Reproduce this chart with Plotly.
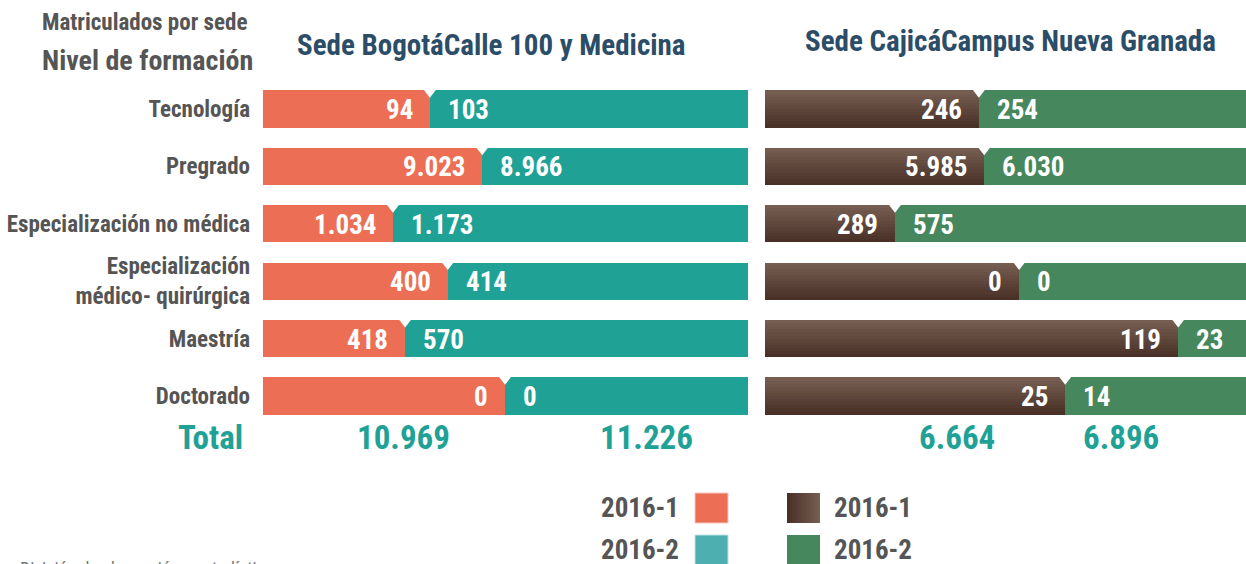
import plotly.graph_objects as go

# ---------------- data ----------------
categories = ["Tecnología", "Pregrado", "Especialización no médica",
              "Especialización<br>médico- quirúrgica", "Maestría", "Doctorado"]
bogota_2016_1 = [94, 9023, 1034, 400, 418, 0]
bogota_2016_2 = [103, 8966, 1173, 414, 570, 0]
cajica_2016_1 = [246, 5985, 289, 0, 119, 25]
cajica_2016_2 = [254, 6030, 575, 0, 23, 14]
# share of each bar drawn for the 2016-1 segment (%)
bogota_split = [34.4, 45.2, 26.8, 38.1, 29.3, 49.9]
cajica_split = [44.1, 45.2, 26.8, 52.4, 85.2, 61.9]
totals_bogota = ["10.969", "11.226"]
totals_cajica = ["6.664", "6.896"]
legend_labels = ["2016-1", "2016-2"]

# ---------------- style ----------------
W, H = 1246, 564
FONT = "Liberation Sans Narrow, Arial Narrow, Roboto Condensed, DejaVu Sans Condensed, sans-serif"
GRAY = "#555555"
ORANGE = "#EC6F55"
TEAL = "#1FA295"
TEAL_LEG = "#4DAFB0"
GREEN = "#47875D"
BROWN_TOP = (0x76, 0x5D, 0x51)
BROWN_BOT = (0x4A, 0x31, 0x28)
TITLE = "#2B4D68"
BARW = 0.645
pitch = 57.4
c0 = 109

def px(x):
    return x / W

def py(y):
    return 1 - y / H

def fmt(v):
    return f"{v:,}".replace(",", ".")

def mix(a, b, t):
    return "rgb(%d,%d,%d)" % tuple(round(a[i] + (b[i] - a[i]) * t) for i in range(3))

idx = list(range(len(categories)))
fig = go.Figure()

# Left panel bars
rest_b = [100 - s for s in bogota_split]
fig.add_trace(go.Bar(x=bogota_split, y=idx, base=0, orientation="h", width=BARW,
                     marker=dict(color=ORANGE, line=dict(width=0)), hoverinfo="skip",
                     xaxis="x", yaxis="y", showlegend=False))
fig.add_trace(go.Bar(x=rest_b, y=idx, base=bogota_split, orientation="h", width=BARW,
                     marker=dict(color=TEAL, line=dict(width=0)), hoverinfo="skip",
                     xaxis="x", yaxis="y", showlegend=False))

# Right panel bars (brown drawn as overlapping layers for a vertical gradient)
N = 12
sw = BARW / N
for k in range(N):
    fig.add_trace(go.Bar(x=cajica_split, y=idx, base=0, orientation="h",
                         width=BARW - k * sw, offset=-BARW / 2 + k * sw,
                         marker=dict(color=mix(BROWN_TOP, BROWN_BOT, k / (N - 1)), line=dict(width=0)),
                         hoverinfo="skip", xaxis="x2", yaxis="y", showlegend=False))
rest_c = [100 - s for s in cajica_split]
fig.add_trace(go.Bar(x=rest_c, y=idx, base=cajica_split, orientation="h", width=BARW,
                     marker=dict(color=GREEN, line=dict(width=0)), hoverinfo="skip",
                     xaxis="x2", yaxis="y", showlegend=False))

# Notches
notch_y = [i - 0.29 for i in idx]
for xs, xa in [(bogota_split, "x"), (cajica_split, "x2")]:
    fig.add_trace(go.Scatter(x=xs, y=notch_y, mode="markers", xaxis=xa, yaxis="y",
                             marker=dict(symbol="triangle-down", size=11, color="white",
                                         line=dict(width=0)),
                             hoverinfo="skip", showlegend=False))

annotations = []
vfont = dict(family=FONT, size=27, color="white", weight="bold")
for split, v1, v2, xr in [(bogota_split, bogota_2016_1, bogota_2016_2, "x"),
                          (cajica_split, cajica_2016_1, cajica_2016_2, "x2")]:
    for i in idx:
        annotations.append(dict(x=split[i], y=i, xref=xr, yref="y", text=fmt(v1[i]),
                                showarrow=False, xanchor="right", yanchor="middle",
                                xshift=-15, yshift=-1, font=vfont))
        annotations.append(dict(x=split[i], y=i, xref=xr, yref="y", text=fmt(v2[i]),
                                showarrow=False, xanchor="left", yanchor="middle",
                                xshift=16, yshift=-1, font=vfont))

catfont = dict(family=FONT, size=23, color=GRAY, weight="bold")

# Header texts
annotations += [
    dict(x=px(249), y=py(22), xref="paper", yref="paper", text="Matriculados por sede",
         showarrow=False, xanchor="right", yanchor="middle",
         font=dict(family=FONT, size=23, color=GRAY, weight="bold")),
    dict(x=px(255), y=py(60), xref="paper", yref="paper", text="Nivel de formación",
         showarrow=False, xanchor="right", yanchor="middle",
         font=dict(family=FONT, size=28, color=GRAY, weight="bold")),
    dict(x=px(491), y=py(45), xref="paper", yref="paper", text="Sede BogotáCalle 100 y Medicina",
         showarrow=False, xanchor="center", yanchor="middle",
         font=dict(family=FONT, size=29, color=TITLE, weight="bold")),
    dict(x=px(1010), y=py(41), xref="paper", yref="paper", text="Sede CajicáCampus Nueva Granada",
         showarrow=False, xanchor="center", yanchor="middle",
         font=dict(family=FONT, size=29, color=TITLE, weight="bold")),
]

# Totals
tfont = dict(family=FONT, size=33, color=TEAL, weight="bold")
annotations.append(dict(x=px(245), y=py(437), xref="paper", yref="paper", text="Total",
                        showarrow=False, xanchor="right", yanchor="middle", font=tfont))
for xc, t in zip([404, 646, 957, 1121], totals_bogota + totals_cajica):
    annotations.append(dict(x=px(xc), y=py(437), xref="paper", yref="paper", text=t,
                            showarrow=False, xanchor="center", yanchor="middle", font=tfont))

# Legend
lfont = dict(family=FONT, size=27, color=GRAY, weight="bold")
shapes = []
for j, (lab, col, yc) in enumerate(zip(legend_labels, [ORANGE, TEAL_LEG], [508, 550])):
    annotations.append(dict(x=px(681), y=py(yc), xref="paper", yref="paper", text=lab,
                            showarrow=False, xanchor="right", yanchor="middle", font=lfont))
    annotations.append(dict(x=px(832), y=py(yc), xref="paper", yref="paper", text=lab,
                            showarrow=False, xanchor="left", yanchor="middle", font=lfont))
    shapes.append(dict(type="rect", xref="paper", yref="paper", x0=px(695), x1=px(728),
                       y0=py(yc - 15), y1=py(yc + 15), fillcolor=col,
                       line=dict(color="#f4c9bd" if j == 0 else "#bfe2e2", width=1)))
# brown legend swatch with horizontal gradient (overlapping layers)
M = 12
for k in range(M):
    shapes.append(dict(type="rect", xref="paper", yref="paper",
                       x0=px(787 + k * 33 / M), x1=px(820),
                       y0=py(508 - 15), y1=py(508 + 15),
                       fillcolor=mix(BROWN_BOT, BROWN_TOP, k / (M - 1)), line=dict(width=0)))
shapes.append(dict(type="rect", xref="paper", yref="paper", x0=px(787), x1=px(820),
                   y0=py(550 - 15), y1=py(550 + 15), fillcolor=GREEN, line=dict(width=0)))

# Footer (cut off at the bottom, as in the source)
annotations.append(dict(x=px(18), y=py(568), xref="paper", yref="paper",
                        text="División de planeación y estadística", showarrow=False,
                        xanchor="left", yanchor="middle",
                        font=dict(family=FONT, size=18, color="#777777")))

fig.update_layout(
    width=W, height=H, margin=dict(l=0, r=0, t=0, b=0),
    paper_bgcolor="white", plot_bgcolor="white",
    barmode="overlay", bargap=0,
    xaxis=dict(domain=[px(263), px(748)], range=[0, 100], visible=False, fixedrange=True),
    xaxis2=dict(domain=[px(765), 1], range=[0, 100 * (W - 765) / 485], visible=False,
                anchor="y", fixedrange=True),
    yaxis=dict(range=[(H - c0) / pitch, -c0 / pitch], tickvals=idx, ticktext=categories,
               showgrid=False, zeroline=False, showline=False, ticks="",
               ticklabelstandoff=12, domain=[0, 1],
               tickfont=catfont, fixedrange=True),
    annotations=annotations, shapes=shapes,
    showlegend=False,
)

fig.write_html("out.html", config={"displayModeBar": False},
               post_script="document.body.style.margin='0';document.body.style.overflow='hidden';")
